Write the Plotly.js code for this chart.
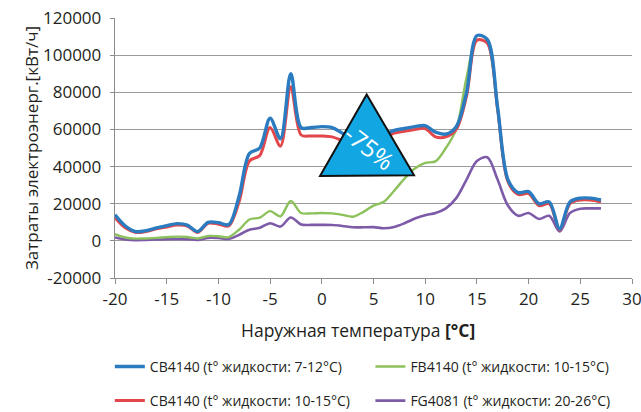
<!DOCTYPE html>
<html>
<head>
<meta charset="utf-8">
<script src="https://cdn.plot.ly/plotly-3.0.1.min.js"></script>
<style>
html,body{margin:0;padding:0;background:#fff;}
#chart{width:641px;height:412px;}
</style>
</head>
<body>
<div id="chart"></div>
<script>
// Outdoor temperature, °C
const temps = [-20,-19,-18,-17,-16,-15,-14,-13,-12,-11,-10,-9,-8,-7,-6,-5,-4,-3,-2,-1,0,1,2,3,4,5,6,7,8,9,10,11,12,13,14,15,16,17,18,19,20,21,22,23,24,25,26,27];

// CB4140 (7-12°C)
const cb4140_7_12 = [14000,8000,5000,5500,7000,8200,9300,8500,5000,10000,9800,8800,24000,47000,50000,66000,55000,90000,61000,61000,61500,61000,58000,55000,54000,55000,57000,59500,60500,61500,62000,58500,57500,61500,80000,110500,108500,72000,33000,26000,26500,20000,21000,6500,21000,23000,23000,22000];
// CB4140 (10-15°C)
const cb4140_10_15 = [12500,7000,4500,5000,6500,7500,8500,8000,4500,9500,9000,8000,21000,43000,46000,61000,51000,83000,57000,56500,56500,56000,54000,52000,51000,52000,55000,58000,59000,60000,60500,56000,56000,60000,78000,108000,106500,71000,32000,25000,25500,19000,20000,6000,20000,22000,22000,21000];
// FB4140 (10-15°C)
const fb4140 = [3600,1800,1200,1300,1600,2000,2300,2100,1300,2600,2500,2000,6000,11500,12500,16000,13200,21500,15000,14800,15000,14800,14000,13000,15500,19000,21000,27000,33500,39000,42000,42800,50000,60000,88000,108000,106500,71000,32000,25000,25500,19000,20000,6000,20000,22000,22000,21000];
// FG4081 (20-26°C)
const fg4081 = [1800,800,400,500,700,900,1000,900,500,1600,1500,1000,3200,6000,7000,9500,7700,12600,8800,8600,8600,8500,8000,7300,7300,7400,6800,7500,9500,12000,13800,15000,17500,23000,33000,43000,45000,33000,19000,13500,15000,11800,13500,5000,15000,17300,17500,17500];

const seriesNames = [
  "CB4140 (t° жидкости: 7-12°C)",
  "CB4140 (t° жидкости: 10-15°C)",
  "FB4140 (t° жидкости: 10-15°C)",
  "FG4081 (t° жидкости: 20-26°C)"
];
const xTicks = [-20,-15,-10,-5,0,5,10,15,20,25,30];
const xTickLabels = ["-20","-15","-10","-5","0","5","10","15","20","25","30"];
const yTicks = [-20000,0,20000,40000,60000,80000,100000,120000];
const yTickLabels = ["-20000","0","20000","40000","60000","80000","100000","120000"];
const xTitle = "Наружная температура <b>[°C]</b>";
const yTitle = "Затраты электроэнерг.[кВт/ч]";

// Triangle annotation (data coords)
const triX = [-0.17, 4.34, 8.92];
const triY = [34900, 78800, 35300];
const badgeText = "-75%";

const FONT = "Open Sans, sans-serif";
const TXT = "#231f20";

function tr(y, name, color, width, leg) {
  return {x: temps, y: y, name: name, mode: "lines", type: "scatter",
    line: {color: color, width: width, shape: "spline", smoothing: 0.9},
    legend: leg, hoverinfo: "skip"};
}

const data = [
  tr(fg4081, seriesNames[3], "#7e5ba9", 2.6, "legend4"),
  tr(fb4140, seriesNames[2], "#8cc15b", 2.4, "legend2"),
  tr(cb4140_10_15, seriesNames[1], "#e4474b", 3, "legend3"),
  tr(cb4140_7_12, seriesNames[0], "#2a7bbf", 3.4, "legend")
];

function legendDef(x, y) {
  return {x: x, y: y, xref: "paper", yref: "paper", xanchor: "left", yanchor: "middle",
    orientation: "h", font: {family: FONT, size: 14, color: TXT}, bgcolor: "rgba(0,0,0,0)"};
}

const layout = {
  width: 641, height: 412,
  margin: {l: 115, r: 9, t: 18, b: 134, autoexpand: false},
  paper_bgcolor: "#fff", plot_bgcolor: "#fff",
  font: {family: FONT, color: TXT},
  showlegend: true,
  xaxis: {
    range: [-20, 30], tickvals: xTicks, ticktext: xTickLabels, ticks: "outside", ticklen: 5, tickcolor: "#8c8c8c",
    showgrid: false, zeroline: false, showline: true, linecolor: "#8c8c8c", linewidth: 1.3,
    tickfont: {family: FONT, size: 17, color: TXT}, automargin: false, ticklabeloverflow: "allow"
  },
  yaxis: {
    range: [-20000, 120000], tickvals: yTicks, ticktext: yTickLabels, ticks: "outside", ticklen: 4, tickcolor: "#8c8c8c",
    showgrid: true, gridcolor: "#9a9a9a", gridwidth: 1.2, zeroline: false,
    showline: true, linecolor: "#8c8c8c", linewidth: 1.3, automargin: false, ticklabeloverflow: "allow",
    ticklabelstandoff: 5,
    tickfont: {family: FONT, size: 17, color: TXT},
    title: {text: yTitle, font: {family: FONT, size: 17, color: TXT}, standoff: 0}
  },
  legend: legendDef(-0.01, -0.342),
  legend2: legendDef(0.494, -0.342),
  legend3: legendDef(-0.01, -0.473),
  legend4: legendDef(0.494, -0.473),
  shapes: [{
    type: "path", xref: "x", yref: "y", layer: "above",
    path: "M " + triX[0] + "," + triY[0] + " L " + triX[1] + "," + triY[1] + " L " + triX[2] + "," + triY[2] + " Z",
    fillcolor: "#12a6e2", line: {color: "#111", width: 2}
  }],
  annotations: [{
    x: 4.66, y: 50300, xref: "x", yref: "y", text: badgeText, showarrow: false,
    textangle: 38, font: {family: FONT, size: 24, color: "#ffffff"}
  }, {
    x: 0.47, y: -0.2, xref: "paper", yref: "paper", xanchor: "center", yanchor: "middle",
    text: xTitle, showarrow: false, font: {family: FONT, size: 17.5, color: TXT}
  }]
};

Plotly.newPlot("chart", data, layout, {displayModeBar: false, staticPlot: true});
</script>
</body>
</html>
